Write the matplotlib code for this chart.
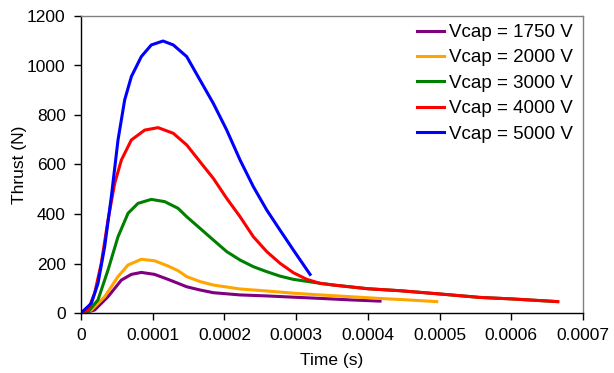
import matplotlib
matplotlib.use("Agg")
import matplotlib.pyplot as plt

plt.rcParams['font.family'] = ['Liberation Sans', 'DejaVu Sans']

# thrust curves (time in s, thrust in N)
t_1750 = [0, 0.000008, 0.000019, 0.0000377, 0.0000563, 0.0000702, 0.0000841, 0.0001026,
          0.0001213, 0.0001353, 0.0001474, 0.000166, 0.0001845, 0.0002218, 0.000259, 0.000296,
          0.0003333, 0.000375, 0.000417]
f_1750 = [0, 3, 12, 66, 133, 156, 164, 156, 136, 120, 106, 93, 82, 73, 69, 64, 59, 53, 48]

t_2000 = [0, 0.000006, 0.0000144, 0.000033, 0.0000516, 0.0000656, 0.0000841, 0.0001026,
          0.0001213, 0.0001353, 0.0001474, 0.000166, 0.0001845, 0.0002218, 0.000259, 0.000296,
          0.0003333, 0.000375, 0.000415, 0.000455, 0.000496]
f_2000 = [0, 3, 12, 66, 147, 194, 217, 211, 190, 171, 147, 127, 113, 97, 89, 80, 73, 66, 59, 53, 46]

t_3000 = [0, 0.0000098, 0.0000237, 0.0000377, 0.0000516, 0.0000656, 0.0000795, 0.000098,
          0.0001167, 0.0001353, 0.0001474, 0.000166, 0.0001845, 0.0002032, 0.0002218, 0.0002404,
          0.000259, 0.0002775, 0.000296, 0.0003333, 0.000352, 0.0004, 0.000445, 0.0005,
          0.000556, 0.0006, 0.000664]
f_3000 = [0, 5, 53, 174, 308, 403, 443, 459, 450, 423, 389, 342, 295, 248, 214, 187, 167,
          149, 136, 120, 113, 98, 90, 77, 63, 57, 46]

t_4000 = [0, 0.0000098, 0.000019, 0.0000283, 0.0000377, 0.000047, 0.0000563, 0.0000702,
          0.0000888, 0.0001074, 0.0001287, 0.0001474, 0.000166, 0.0001845, 0.0002032, 0.0002218,
          0.0002404, 0.000259, 0.0002775, 0.000296, 0.0003148, 0.0003333, 0.000352, 0.0004,
          0.000445, 0.0005, 0.000556, 0.0006, 0.000665]
f_4000 = [0, 12, 80, 201, 376, 524, 618, 699, 739, 749, 726, 679, 611, 544, 463, 389,
          308, 248, 201, 163, 136, 120, 113, 98, 90, 77, 63, 57, 46]

t_5000 = [0, 0.0000144, 0.0000237, 0.000033, 0.0000423, 0.0000516, 0.0000609, 0.0000702,
          0.0000841, 0.000098, 0.0001144, 0.0001287, 0.0001474, 0.000166, 0.0001845, 0.0002032,
          0.0002218, 0.0002404, 0.000259, 0.0002775, 0.000296, 0.0003194]
f_5000 = [0, 39, 120, 268, 470, 699, 861, 955, 1036, 1083, 1099, 1083, 1036, 941, 847, 739,
          618, 510, 416, 335, 255, 156]

labels = ['Vcap = 1750 V', 'Vcap = 2000 V', 'Vcap = 3000 V', 'Vcap = 4000 V', 'Vcap = 5000 V']
colors = ['#800080', '#FFA500', '#008000', '#FF0000', '#0000FF']

x_ticks = [0, 0.0001, 0.0002, 0.0003, 0.0004, 0.0005, 0.0006, 0.0007]
x_ticklabels = ['0', '0.0001', '0.0002', '0.0003', '0.0004', '0.0005', '0.0006', '0.0007']
y_ticks = [0, 200, 400, 600, 800, 1000, 1200]

fig = plt.figure(figsize=(6.14, 3.73), dpi=100)
ax = fig.add_axes([81 / 614, 1 - 313 / 373, 502 / 614, 297 / 373])

series = [(t_1750, f_1750), (t_2000, f_2000), (t_3000, f_3000), (t_4000, f_4000), (t_5000, f_5000)]
for (t, f), lab, c in zip(series, labels, colors):
    ax.plot(t, f, color=c, lw=2.2, label=lab, solid_joinstyle='round')

ax.set_xlim(0, 0.0007)
ax.set_ylim(0, 1200)
ax.set_xticks(x_ticks)
ax.set_xticklabels(x_ticklabels)
ax.set_yticks(y_ticks)
ax.tick_params(direction='out', length=5, width=1, labelsize=12.5, pad=6, color='black')

for s in ['top', 'right']:
    ax.spines[s].set_color('#808080')
    ax.spines[s].set_linewidth(1)
for s in ['left', 'bottom']:
    ax.spines[s].set_color('black')
    ax.spines[s].set_linewidth(1)

ax.set_xlabel('Time (s)', fontsize=12.5)
ax.set_ylabel('Thrust (N)', fontsize=12.5)
ax.xaxis.set_label_coords(0.5, -0.135)
ax.yaxis.set_label_coords(-0.107, 0.5)

ax.legend(loc='upper left', bbox_to_anchor=(417 / 614, 1 - 24 / 373), bbox_transform=fig.transFigure,
          frameon=False, fontsize=13.5, handlelength=1.45, handletextpad=0.27, labelspacing=0.44,
          borderaxespad=0, borderpad=0)

fig.savefig('out.png', dpi=100)
